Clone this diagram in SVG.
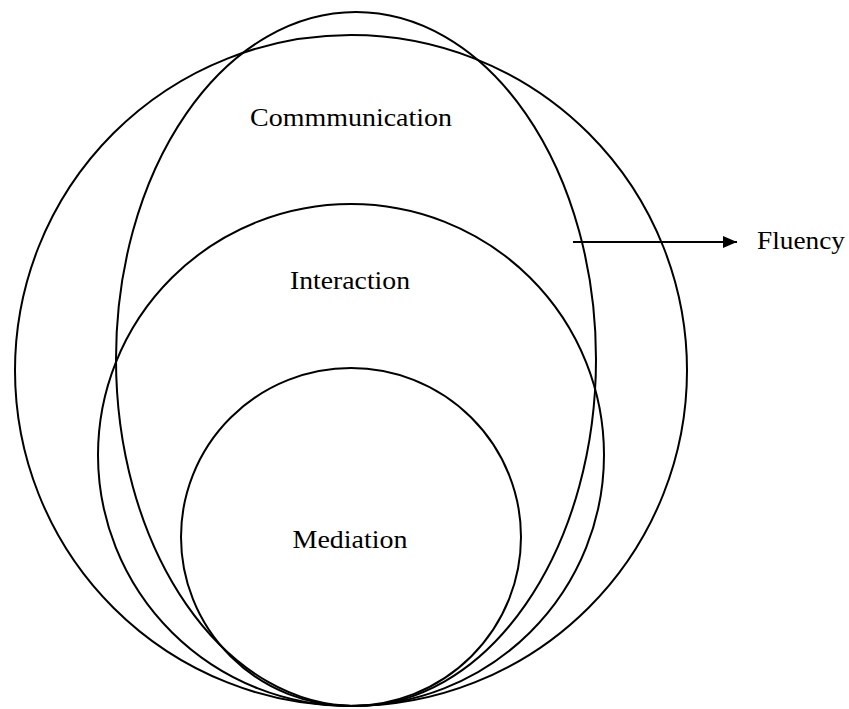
<svg xmlns="http://www.w3.org/2000/svg" width="849" height="709" viewBox="0 0 849 709">
<style>
.s{fill:none;stroke:#000;stroke-width:2}
.t{font-family:"Liberation Serif","Times New Roman",serif;font-size:26px;fill:#000;text-anchor:middle}
</style>
<defs>
<marker id="ah" markerWidth="16" markerHeight="14" refX="14" refY="6" orient="auto" markerUnits="userSpaceOnUse"><path d="M0,0 L14,6 L0,12 Z"/></marker>
</defs>
<rect width="849" height="709" fill="#fff"/>
<g id="fluency-circle"><ellipse class="s" cx="351" cy="370.5" rx="336" ry="335.5"/></g>
<g id="communication"><ellipse class="s" cx="356" cy="359" rx="240" ry="347"/><text class="t" x="351" y="126" textLength="202" lengthAdjust="spacingAndGlyphs">Commmunication</text></g>
<g id="interaction"><ellipse class="s" cx="351" cy="455" rx="253" ry="251"/><text class="t" x="350" y="289" textLength="120" lengthAdjust="spacingAndGlyphs">Interaction</text></g>
<g id="mediation"><ellipse class="s" cx="351" cy="537" rx="170" ry="169"/><text class="t" x="350" y="548" textLength="115" lengthAdjust="spacingAndGlyphs">Mediation</text></g>
<g id="fluency"><text class="t" x="801" y="249" textLength="88" lengthAdjust="spacingAndGlyphs">Fluency</text></g>
<g id="connectors"><line class="s" x1="573" y1="242" x2="737" y2="242" marker-end="url(#ah)"/></g>
</svg>
